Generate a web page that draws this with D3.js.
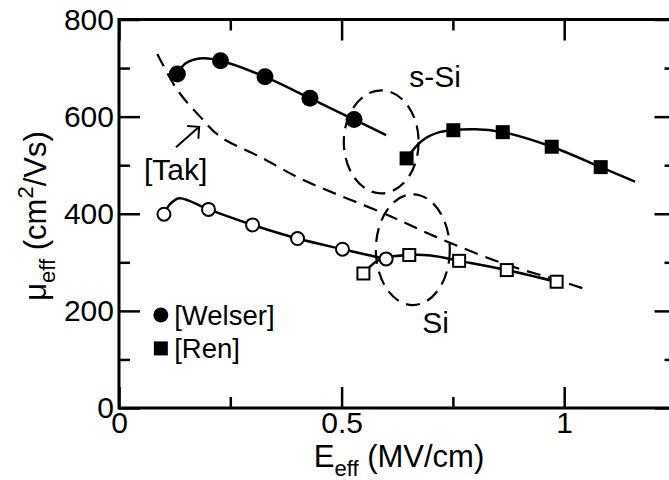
<!DOCTYPE html>
<html>
<head>
<meta charset="utf-8">
<script src="https://cdn.jsdelivr.net/npm/d3@7"></script>
<style>
  body { margin: 0; background: #fff; }
  svg { display: block; font-family: "Liberation Sans", Arial, Helvetica, sans-serif; }
</style>
</head>
<body>
<svg id="chart" width="669" height="480"></svg>
<script>
// Axis ticks
const xMajorTicks = [0, 0.5, 1];
const xMinorTicks = [0.25, 0.75];
const yMajorTicks = [0, 200, 400, 600, 800];
const yMinorTicks = [100, 300, 500, 700];

// Measured mobility: strained Si (filled) and bulk Si (open)
const welserE  = [0.131, 0.228, 0.328, 0.429, 0.528];
const welserMu = [688, 715, 682, 638, 594];
const renE     = [0.646, 0.751, 0.862, 0.972, 1.082];
const renMu    = [514, 572, 568, 538, 496];
const siWelserE  = [0.101, 0.201, 0.300, 0.401, 0.502, 0.600];
const siWelserMu = [399, 409, 377, 349, 327, 307];
const siRenE     = [0.549, 0.652, 0.764, 0.871, 0.983];
const siRenMu    = [277, 315, 303, 284, 260];

// Guide curves through each data set, and the [Tak] model (dashed)
const welserFit   = [[0.131, 688], [0.150, 710], [0.188, 720], [0.228, 715], [0.328, 682], [0.429, 638], [0.528, 594], [0.600, 562]];
const renFit      = [[0.646, 514], [0.680, 550], [0.720, 568], [0.800, 574], [0.862, 568], [0.972, 538], [1.082, 496], [1.159, 466]];
const siWelserFit = [[0.101, 399], [0.113, 418], [0.135, 432], [0.201, 409], [0.300, 377], [0.401, 349], [0.502, 327], [0.600, 307]];
const siRenFit    = [[0.549, 277], [0.586, 306], [0.652, 315], [0.700, 314], [0.764, 303], [0.871, 284], [0.983, 260]];
const takModel    = [[0.086, 729], [0.131, 655], [0.182, 600], [0.227, 559], [0.317, 517], [0.413, 470], [0.594, 401], [0.736, 343], [0.871, 295], [0.983, 264], [1.047, 245]];

const svg = d3.select("#chart");
const plotL = 119, plotT = 19.5, plotB = 408, plotR = 675.5;

const x = d3.scaleLinear().domain([0, 1.25]).range([plotL, plotR]);
const y = d3.scaleLinear().domain([0, 800]).range([plotB, plotT]);

const MAJ = 21, MIN = 11;
const TICK_FONT = 30, TITLE_FONT = 31, LABEL_FONT = 30, LEGEND_FONT = 27.5;

function styleAxis(g) {
  g.select(".domain").remove();
  g.selectAll(".tick line").attr("stroke", "#000").attr("stroke-width", 2.5);
  g.selectAll(".tick text").attr("fill", "#000").attr("font-size", TICK_FONT)
    .attr("font-family", "Liberation Sans, Arial, sans-serif");
}

// bottom
svg.append("g").attr("transform", `translate(0,${plotB})`)
  .call(d3.axisBottom(x).tickValues(xMajorTicks).tickSize(-MAJ).tickSizeOuter(0).tickPadding(4).tickFormat(d => String(d)))
  .call(styleAxis);
svg.append("g").attr("transform", `translate(0,${plotB})`)
  .call(d3.axisBottom(x).tickValues(xMinorTicks).tickSize(-MIN).tickSizeOuter(0).tickFormat(""))
  .call(styleAxis);
// top
svg.append("g").attr("transform", `translate(0,${plotT})`)
  .call(d3.axisTop(x).tickValues(xMajorTicks).tickSize(-MAJ).tickSizeOuter(0).tickFormat(""))
  .call(styleAxis);
svg.append("g").attr("transform", `translate(0,${plotT})`)
  .call(d3.axisTop(x).tickValues(xMinorTicks).tickSize(-MIN).tickSizeOuter(0).tickFormat(""))
  .call(styleAxis);
// left
svg.append("g").attr("transform", `translate(${plotL},0)`)
  .call(d3.axisLeft(y).tickValues(yMajorTicks).tickSize(-MAJ).tickSizeOuter(0).tickPadding(5).tickFormat(d3.format("d")))
  .call(styleAxis);
svg.append("g").attr("transform", `translate(${plotL},0)`)
  .call(d3.axisLeft(y).tickValues(yMinorTicks).tickSize(-MIN).tickSizeOuter(0).tickFormat(""))
  .call(styleAxis);
// right
svg.append("g").attr("transform", `translate(${plotR},0)`)
  .call(d3.axisRight(y).tickValues(yMajorTicks).tickSize(-MAJ).tickSizeOuter(0).tickFormat(""))
  .call(styleAxis);
svg.append("g").attr("transform", `translate(${plotR},0)`)
  .call(d3.axisRight(y).tickValues(yMinorTicks).tickSize(-MIN).tickSizeOuter(0).tickFormat(""))
  .call(styleAxis);

// frame
svg.append("rect")
  .attr("x", plotL).attr("y", plotT)
  .attr("width", plotR - plotL).attr("height", plotB - plotT)
  .attr("fill", "none").attr("stroke", "#000").attr("stroke-width", 3);

// axis titles
const xt = svg.append("text").attr("x", 399).attr("y", 467)
  .attr("text-anchor", "middle").attr("font-size", TITLE_FONT).attr("fill", "#000");
xt.append("tspan").text("E");
xt.append("tspan").attr("font-size", 22).attr("dy", 9).text("eff");
xt.append("tspan").attr("dy", -9).text(" (MV/cm)");

const yt = svg.append("text").attr("transform", "translate(46,216) rotate(-90)")
  .attr("text-anchor", "middle").attr("font-size", TITLE_FONT).attr("fill", "#000");
yt.append("tspan").text("\u03bc");
yt.append("tspan").attr("font-size", 22).attr("dy", 9).text("eff");
yt.append("tspan").attr("dy", -9).text(" (cm");
yt.append("tspan").attr("font-size", 22).attr("dy", -13).text("2");
yt.append("tspan").attr("dy", 13).text("/Vs)");

// curves
const line = d3.line().x(d => x(d[0])).y(d => y(d[1])).curve(d3.curveCatmullRom.alpha(0.5));
const plot = svg.append("g");

plot.append("path").datum(takModel).attr("d", line)
  .attr("fill", "none").attr("stroke", "#000").attr("stroke-width", 2.2)
  .attr("stroke-dasharray", "14,8");

[welserFit, renFit, siWelserFit, siRenFit].forEach(c => {
  plot.append("path").datum(c).attr("d", line)
    .attr("fill", "none").attr("stroke", "#000").attr("stroke-width", 2.5);
});

// grouping ellipses
const groups = [
  { cx: 0.589, cy: 548, rx: 0.084, ry: 106 },
  { cx: 0.660, cy: 326, rx: 0.083, ry: 114 }
];
groups.forEach(e => {
  plot.append("ellipse")
    .attr("cx", x(e.cx)).attr("cy", y(e.cy))
    .attr("rx", x(e.cx + e.rx) - x(e.cx)).attr("ry", y(e.cy - e.ry) - y(e.cy))
    .attr("fill", "none").attr("stroke", "#000").attr("stroke-width", 2.2)
    .attr("stroke-dasharray", "14,8");
});

// markers
const zipPts = (a, b) => a.map((v, i) => [v, b[i]]);
plot.selectAll(".wf").data(zipPts(welserE, welserMu)).enter().append("circle")
  .attr("cx", d => x(d[0])).attr("cy", d => y(d[1])).attr("r", 8.5).attr("fill", "#000");
plot.selectAll(".rf").data(zipPts(renE, renMu)).enter().append("rect")
  .attr("x", d => x(d[0]) - 7).attr("y", d => y(d[1]) - 7)
  .attr("width", 14).attr("height", 14).attr("fill", "#000");
plot.selectAll(".wo").data(zipPts(siWelserE, siWelserMu)).enter().append("circle")
  .attr("cx", d => x(d[0])).attr("cy", d => y(d[1])).attr("r", 6.5)
  .attr("fill", "#fff").attr("stroke", "#000").attr("stroke-width", 2);
plot.selectAll(".ro").data(zipPts(siRenE, siRenMu)).enter().append("rect")
  .attr("x", d => x(d[0]) - 6).attr("y", d => y(d[1]) - 6)
  .attr("width", 12).attr("height", 12)
  .attr("fill", "#fff").attr("stroke", "#000").attr("stroke-width", 2);

// labels
svg.append("text").attr("x", x(0.652)).attr("y", y(661)).attr("font-size", LABEL_FONT).text("s-Si");
svg.append("text").attr("x", x(0.681)).attr("y", y(154)).attr("font-size", LABEL_FONT).text("Si");
svg.append("text").attr("x", x(0.056)).attr("y", y(470)).attr("font-size", LABEL_FONT).text("[Tak]");

// arrow pointing at the [Tak] curve
const tail = [x(0.128), y(537)], head = [x(0.180), y(579)];
const ang = Math.atan2(tail[1] - head[1], tail[0] - head[0]);
const aLen = 12, aSpread = Math.PI / 4;
svg.append("path")
  .attr("d", `M${tail[0]},${tail[1]}L${head[0]},${head[1]}` +
    `M${head[0] + aLen * Math.cos(ang - aSpread)},${head[1] + aLen * Math.sin(ang - aSpread)}` +
    `L${head[0]},${head[1]}` +
    `L${head[0] + aLen * Math.cos(ang + aSpread)},${head[1] + aLen * Math.sin(ang + aSpread)}`)
  .attr("fill", "none").attr("stroke", "#000").attr("stroke-width", 2);

// legend
svg.append("circle").attr("cx", x(0.094)).attr("cy", y(191.5)).attr("r", 7.5).attr("fill", "#000");
svg.append("text").attr("x", x(0.124)).attr("y", y(171)).attr("font-size", LEGEND_FONT).text("[Welser]");
svg.append("rect").attr("x", x(0.094) - 7).attr("y", y(122.7) - 7).attr("width", 14).attr("height", 14).attr("fill", "#000");
svg.append("text").attr("x", x(0.124)).attr("y", y(103)).attr("font-size", LEGEND_FONT).text("[Ren]");
</script>
</body>
</html>
